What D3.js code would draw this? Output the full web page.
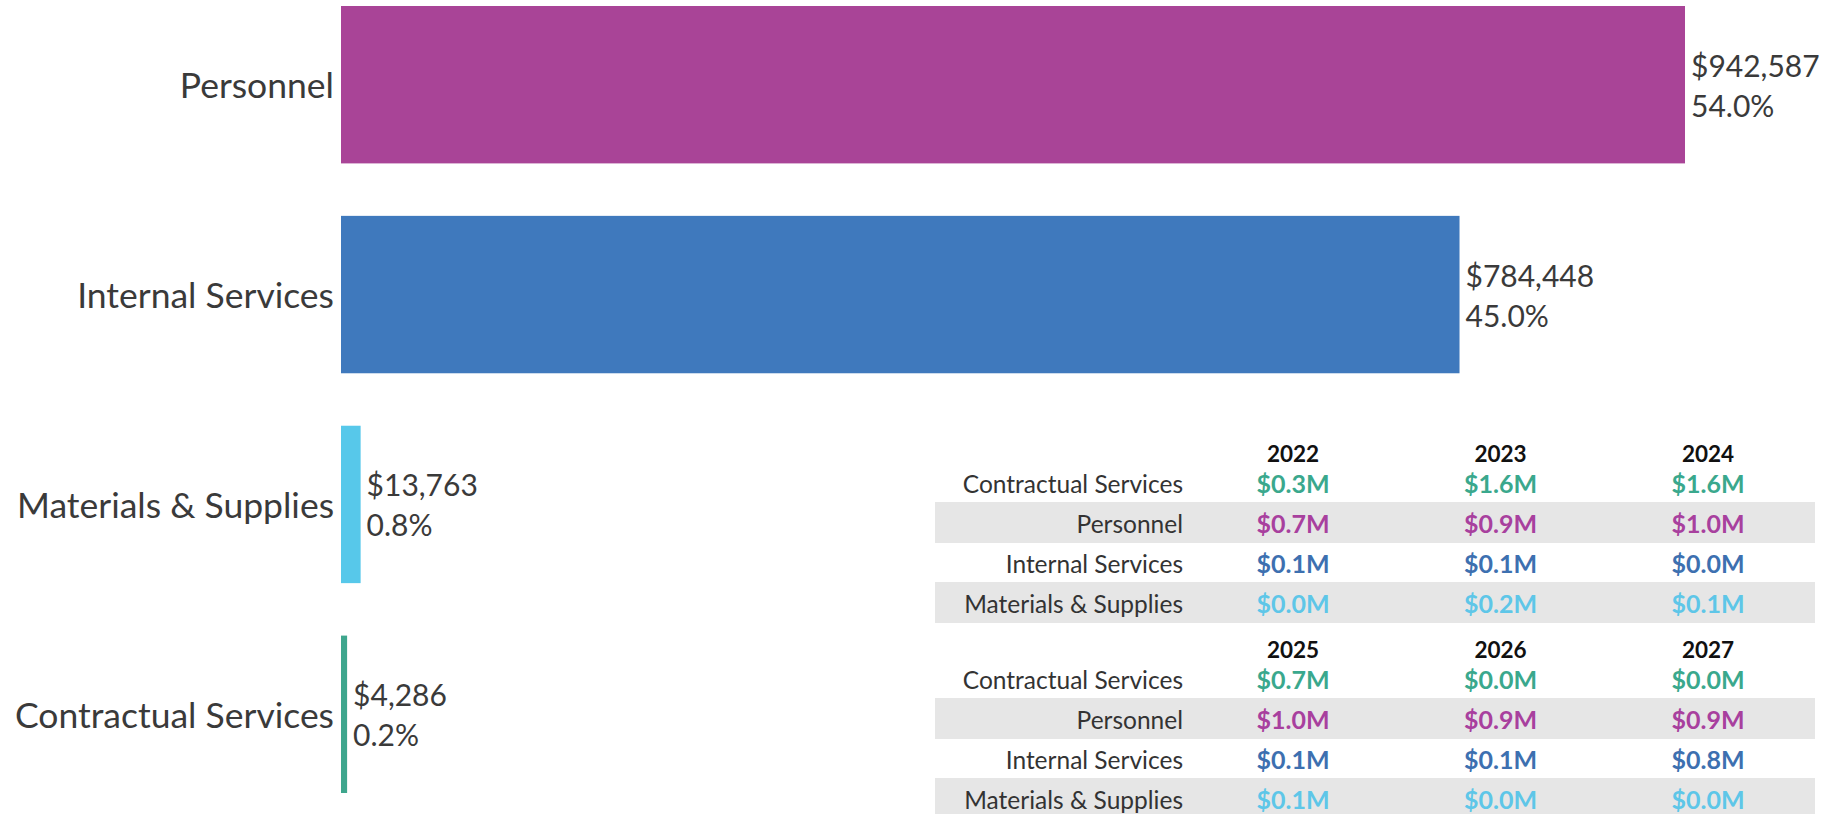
<!DOCTYPE html>
<html>
<head>
<meta charset="utf-8">
<script src="https://cdn.jsdelivr.net/npm/d3@7"></script>
<style>
  body { margin: 0; background: #ffffff; }
  #canvas { display: block; font-family: Lato, "Open Sans", sans-serif; }
</style>
</head>
<body>
<svg id="canvas" width="1837" height="814"></svg>
<script>

// bar chart data (totals)
let categories = ["Personnel", "Internal Services", "Materials & Supplies", "Contractual Services"];
let totals = [942587, 784448, 13763, 4286];
let barColors = ["#a94497", "#3f79bd", "#57c8ea", "#3ea68d"];

// table data (millions per year)
let years = [2022, 2023, 2024, 2025, 2026, 2027];
let tableRows = ["Contractual Services", "Personnel", "Internal Services", "Materials & Supplies"];
let contractualByYear = [0.3, 1.6, 1.6, 0.7, 0.0, 0.0];
let personnelByYear = [0.7, 0.9, 1.0, 1.0, 0.9, 0.9];
let internalByYear = [0.1, 0.1, 0.0, 0.1, 0.1, 0.8];
let materialsByYear = [0.0, 0.2, 0.1, 0.1, 0.0, 0.0];
let tableColors = ["#3aa88d", "#a8409e", "#3d70b0", "#5ec6e8"];

const width = 1837;
const height = 814;

let svg = d3.select('#canvas');

svg.append('rect')
    .attr('width', width)
    .attr('height', height)
    .attr('fill', '#ffffff');

let grandTotal = d3.sum(totals);
let bars = categories.map((c, i) => ({name: c, value: totals[i], color: barColors[i]}));

let x = d3.scaleLinear()
    .domain([0, d3.max(totals)])
    .range([341, 1685]);

let y = d3.scaleBand()
    .domain(categories)
    .range([6, 793])
    .paddingInner(0.25)
    .paddingOuter(0);

let money = d3.format("$,");
let pct = d3.format(".1%");

// the bars
svg.append('g')
    .selectAll('rect')
    .data(bars)
    .join('rect')
    .attr('x', x(0))
    .attr('y', d => y(d.name))
    .attr('width', d => x(d.value) - x(0))
    .attr('height', y.bandwidth())
    .attr('fill', d => d.color);

// category names on the left
svg.append('g')
    .selectAll('text')
    .data(bars)
    .join('text')
    .attr('x', x(0) - 7)
    .attr('y', d => y(d.name) + y.bandwidth() / 2)
    .attr('text-anchor', 'end')
    .attr('dominant-baseline', 'central')
    .attr('font-size', 35.5)
    .attr('fill', '#3a3a3a')
    .text(d => d.name);

// value + share labels after each bar
let valueLabels = svg.append('g')
    .selectAll('text')
    .data(bars)
    .join('text')
    .attr('font-size', 30)
    .attr('fill', '#3a3a3a');

valueLabels.append('tspan')
    .attr('x', d => x(d.value) + 6)
    .attr('y', d => y(d.name) + y.bandwidth() / 2 - 20)
    .attr('dominant-baseline', 'central')
    .text(d => money(d.value));

valueLabels.append('tspan')
    .attr('x', d => x(d.value) + 6)
    .attr('y', d => y(d.name) + y.bandwidth() / 2 + 20)
    .attr('dominant-baseline', 'central')
    .text(d => pct(d.value / grandTotal));

// ---- yearly table, two blocks of three years ----
let seriesByRow = [contractualByYear, personnelByYear, internalByYear, materialsByYear];
let millions = v => d3.format("$.1f")(v) + "M";

let colX = d3.scalePoint()
    .domain([0, 1, 2])
    .range([1293, 1708]);

let rowY = d3.scaleBand()
    .domain(tableRows)
    .range([463, 623])
    .padding(0);

const blockOffset = 196;
const labelRight = 1183;
const bandLeft = 935;
const bandRight = 1815;

for (let b = 0; b < 2; b++) {
    let g = svg.append('g')
        .attr('transform', 'translate(0,' + (b * blockOffset) + ')');
    let blockYears = years.slice(b * 3, b * 3 + 3);

    // gray stripes on 2nd and 4th rows
    g.selectAll('rect')
        .data(tableRows.filter((r, i) => i % 2 == 1))
        .join('rect')
        .attr('x', bandLeft)
        .attr('y', d => rowY(d) - 1)
        .attr('width', bandRight - bandLeft)
        .attr('height', rowY.bandwidth() + 1)
        .attr('fill', '#e6e6e6');

    // year headers
    g.selectAll('text.year')
        .data(blockYears)
        .join('text')
        .attr('class', 'year')
        .attr('x', (d, i) => colX(i))
        .attr('y', rowY(tableRows[0]) - 10)
        .attr('text-anchor', 'middle')
        .attr('dominant-baseline', 'central')
        .attr('font-size', 22.5)
        .attr('font-weight', 'bold')
        .attr('fill', '#111111')
        .text(d => d);

    // row names
    g.selectAll('text.rowname')
        .data(tableRows)
        .join('text')
        .attr('class', 'rowname')
        .attr('x', labelRight)
        .attr('y', d => rowY(d) + rowY.bandwidth() / 2)
        .attr('text-anchor', 'end')
        .attr('dominant-baseline', 'central')
        .attr('font-size', 24.5)
        .attr('fill', '#333333')
        .text(d => d);

    // the values
    tableRows.forEach((r, ri) => {
        let vals = seriesByRow[ri].slice(b * 3, b * 3 + 3);
        g.selectAll('text.v' + ri)
            .data(vals)
            .join('text')
            .attr('class', 'v' + ri)
            .attr('x', (d, i) => colX(i))
            .attr('y', rowY(r) + rowY.bandwidth() / 2)
            .attr('text-anchor', 'middle')
            .attr('dominant-baseline', 'central')
            .attr('font-size', 25)
            .attr('font-weight', 'bold')
            .attr('fill', tableColors[ri])
            .text(d => millions(d));
    });
}

</script>
</body>
</html>
